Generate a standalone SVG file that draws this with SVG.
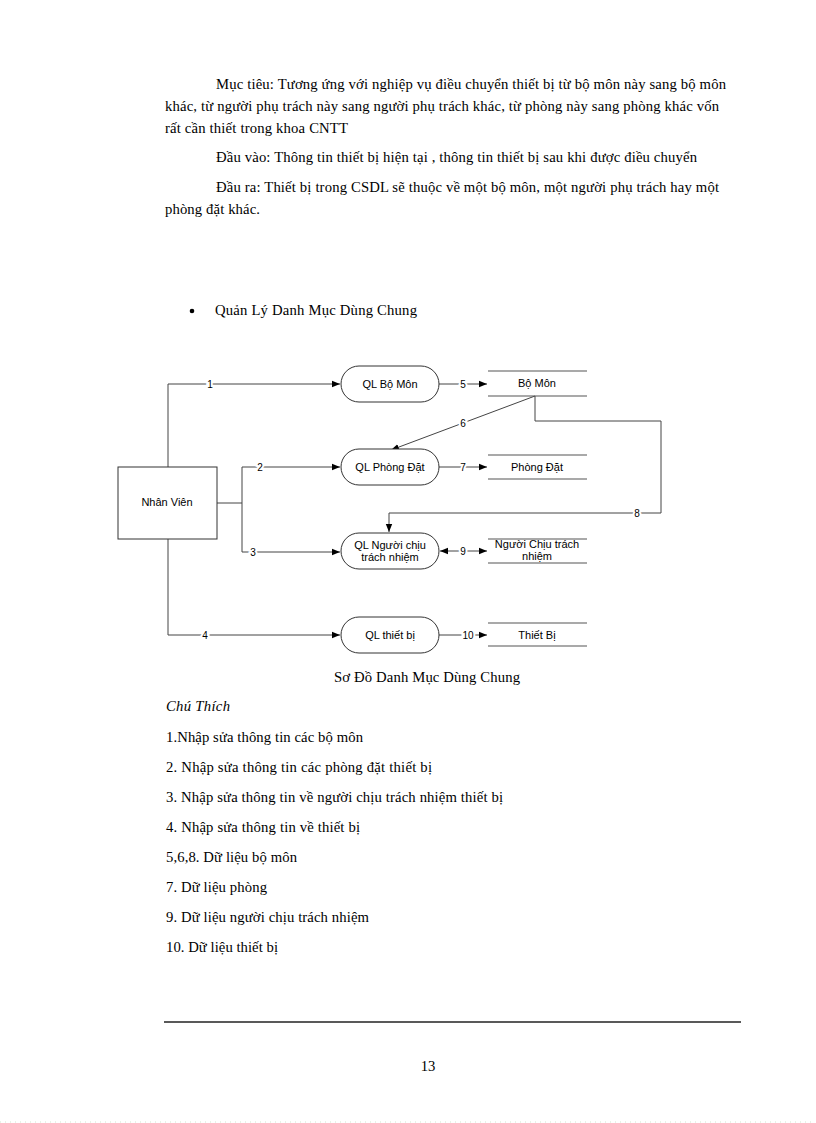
<svg xmlns="http://www.w3.org/2000/svg" width="816" height="1123" viewBox="0 0 816 1123">
<style>
.body{font-family:"Liberation Serif","Times New Roman",serif;font-size:14.7px;fill:#000}
.it{font-style:italic}
.d{font-family:"Liberation Sans",Arial,sans-serif;font-size:11px;fill:#000;text-anchor:middle}
.n{font-family:"Liberation Sans",Arial,sans-serif;font-size:10px;fill:#000;text-anchor:middle;stroke:#fff;stroke-width:4px;paint-order:stroke;dominant-baseline:central}
.proc{fill:#fff;stroke:#333;stroke-width:1}
.ent{fill:#fff;stroke:#333;stroke-width:1}
.st{stroke:#555;stroke-width:1.2;fill:none}
.c{stroke:#444;stroke-width:1;fill:none}
</style>
<defs>
<marker id="ah" viewBox="0 0 10 10" refX="10" refY="5" markerWidth="8" markerHeight="8" markerUnits="userSpaceOnUse" orient="auto-start-reverse">
<path d="M0,1 L10,5 L0,9 z" fill="#000"/>
</marker>
</defs>
<rect x="0" y="0" width="816" height="1123" fill="#fff"/>

<g id="text-top">
<text class="body" x="216" y="89" textLength="510" lengthAdjust="spacing">Mục tiêu:  Tương ứng với nghiệp vụ điều chuyển thiết bị từ bộ môn này sang bộ môn</text>
<text class="body" x="165" y="111" textLength="554" lengthAdjust="spacing">khác, từ người phụ trách này sang người phụ trách khác, từ phòng này sang phòng  khác vốn</text>
<text class="body" x="165" y="133" textLength="183" lengthAdjust="spacing">rất cần thiết trong khoa CNTT</text>
<text class="body" x="216" y="162" textLength="481" lengthAdjust="spacing">Đầu vào: Thông tin  thiết bị hiện tại , thông tin thiết bị sau khi  được điều chuyển</text>
<text class="body" x="216" y="192" textLength="503" lengthAdjust="spacing">Đầu ra: Thiết bị trong CSDL sẽ thuộc về một bộ môn,  một người  phụ trách hay một</text>
<text class="body" x="165" y="214" textLength="95" lengthAdjust="spacing">phòng đặt khác.</text>
<circle cx="192" cy="311" r="2.3" fill="#000"/>
<text class="body" x="215" y="315" textLength="202" lengthAdjust="spacing">Quản Lý Danh Mục Dùng Chung</text>
</g>

<g id="connectors">
<polyline class="c" points="168,467 168,384 340,384" marker-end="url(#ah)"/>
<line class="c" x1="217" y1="503" x2="242" y2="503"/>
<line class="c" x1="242" y1="467" x2="242" y2="552"/>
<line class="c" x1="242" y1="467" x2="340" y2="467" marker-end="url(#ah)"/>
<line class="c" x1="242" y1="552" x2="340" y2="552" marker-end="url(#ah)"/>
<polyline class="c" points="168,539 168,635 340,635" marker-end="url(#ah)"/>
<line class="c" x1="439" y1="384" x2="487" y2="384" marker-end="url(#ah)"/>
<line class="c" x1="535" y1="396" x2="391" y2="450" marker-end="url(#ah)"/>
<polyline class="c" points="535,396 535,421 661,421 661,513 389,513 389,532" marker-end="url(#ah)"/>
<line class="c" x1="439" y1="467" x2="487" y2="467" marker-end="url(#ah)"/>
<line class="c" x1="440" y1="551" x2="487" y2="551" marker-start="url(#ah)" marker-end="url(#ah)"/>
<line class="c" x1="439" y1="635" x2="487" y2="635" marker-end="url(#ah)"/>
<text class="n" x="210" y="384">1</text>
<text class="n" x="260" y="467">2</text>
<text class="n" x="253" y="552">3</text>
<text class="n" x="205" y="635">4</text>
<text class="n" x="463" y="384">5</text>
<text class="n" x="463" y="423">6</text>
<text class="n" x="463" y="467">7</text>
<text class="n" x="637" y="513">8</text>
<text class="n" x="463" y="551">9</text>
<text class="n" x="468" y="635">10</text>
</g>

<g id="nhan-vien">
<rect class="ent" x="118" y="467" width="99" height="72"/>
<text class="d" x="167" y="506">Nhân Viên</text>
</g>

<g id="ql-bo-mon">
<rect class="proc" x="341" y="366" width="98" height="36" rx="18"/>
<text class="d" x="390" y="388">QL Bộ Môn</text>
</g>
<g id="ql-phong-dat">
<rect class="proc" x="341" y="449" width="98" height="36" rx="18"/>
<text class="d" x="390" y="471">QL Phòng Đặt</text>
</g>
<g id="ql-nguoi-chiu">
<rect class="proc" x="341" y="533" width="98" height="36" rx="18"/>
<text class="d" x="390" y="549">QL Người chịu</text>
<text class="d" x="390" y="561">trách nhiệm</text>
</g>
<g id="ql-thiet-bi">
<rect class="proc" x="341" y="617" width="98" height="36" rx="18"/>
<text class="d" x="390" y="639">QL thiết bị</text>
</g>

<g id="store-bo-mon">
<line class="st" x1="488" y1="371" x2="587" y2="371"/>
<line class="st" x1="488" y1="396" x2="587" y2="396"/>
<text class="d" x="537" y="387">Bộ Môn</text>
</g>
<g id="store-phong-dat">
<line class="st" x1="488" y1="455" x2="587" y2="455"/>
<line class="st" x1="488" y1="479" x2="587" y2="479"/>
<text class="d" x="537" y="471">Phòng Đặt</text>
</g>
<g id="store-nguoi-chiu">
<line class="st" x1="488" y1="539" x2="587" y2="539"/>
<line class="st" x1="488" y1="563" x2="587" y2="563"/>
<text class="d" x="537" y="548">Người Chịu trách</text>
<text class="d" x="537" y="560">nhiệm</text>
</g>
<g id="store-thiet-bi">
<line class="st" x1="488" y1="623" x2="587" y2="623"/>
<line class="st" x1="488" y1="646" x2="587" y2="646"/>
<text class="d" x="537" y="639">Thiết Bị</text>
</g>

<g id="legend">
<text class="body" x="334" y="682" textLength="186" lengthAdjust="spacing">Sơ Đồ Danh Mục Dùng Chung</text>
<text class="body it" x="166" y="711" textLength="64" lengthAdjust="spacing">Chú Thích</text>
<text class="body" x="166" y="742" textLength="197" lengthAdjust="spacing">1.Nhập sửa thông tin các bộ môn</text>
<text class="body" x="166" y="772" textLength="266" lengthAdjust="spacing">2.  Nhập sửa  thông tin các phòng đặt thiết bị</text>
<text class="body" x="166" y="802" textLength="337" lengthAdjust="spacing">3.  Nhập sửa thông tin  về người chịu trách nhiệm thiết bị</text>
<text class="body" x="166" y="832" textLength="194" lengthAdjust="spacing">4.  Nhập sửa thông tin  về thiết bị</text>
<text class="body" x="166" y="862" textLength="131" lengthAdjust="spacing">5,6,8.  Dữ liệu  bộ môn</text>
<text class="body" x="166" y="892" textLength="101" lengthAdjust="spacing">7.  Dữ liệu  phòng</text>
<text class="body" x="166" y="922" textLength="203" lengthAdjust="spacing">9.  Dữ liệu  người chịu trách nhiệm</text>
<text class="body" x="166" y="952" textLength="112" lengthAdjust="spacing">10.  Dữ liệu thiết bị</text>
</g>

<g id="footer">
<line x1="164" y1="1022" x2="741" y2="1022" stroke="#222" stroke-width="1.5"/>
<text class="body" x="428" y="1071" text-anchor="middle">13</text>
<line x1="0" y1="1122" x2="812" y2="1122" stroke="#cfe5cf" stroke-width="1" stroke-dasharray="1,4"/>
</g>
</svg>
